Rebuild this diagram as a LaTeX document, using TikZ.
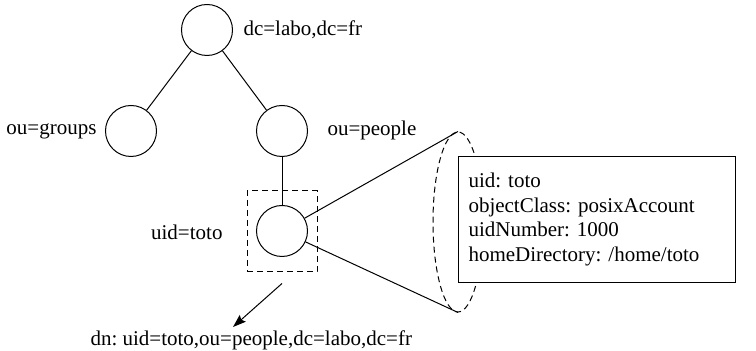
\documentclass[tikz,border=0pt]{standalone}
\usepackage{fontspec}
\setmainfont{Liberation Serif}
\usepackage{tikz}
\usetikzlibrary{arrows.meta,shapes.geometric,positioning}
\frenchspacing

\begin{document}
\begin{tikzpicture}[x=0.5pt,y=-0.5pt,line width=0.5pt,
  every node/.style={inner sep=0pt,font=\fontsize{10.5}{12.35}\selectfont},
  entry/.style={draw,circle,minimum size=25.5pt},
  dashbox/.style={draw,dash pattern=on 3pt off 2pt},
  attrbox/.style={draw,fill=white,anchor=north west,text width=128.5pt,
    minimum height=63pt,inner xsep=5pt,align=left}]
\useasboundingbox (0,0) rectangle (756,351);
% tree
\node [entry] (base) at (207,30) {};
\node [anchor=west] (baselbl) at (243,30) {dc=labo,dc=fr};
\node [entry] (groups) at (131,131) {};
\node [anchor=east] (groupslbl) at (97,131) {ou=groups};
\node [entry] (people) at (282,131) {};
\node [anchor=west] (peoplelbl) at (327,130) {ou=people};
\node [entry] (toto) at (282,231) {};
\node [anchor=east] (totolbl) at (223,232) {uid=toto};
\draw (base) -- (groups);
\draw (base) -- (people);
\draw (people) -- (toto);
% selection
\node [dashbox,minimum width=35pt,minimum height=40.5pt] (sel) at (282,231.5) {};
\coordinate (tip) at (233,327);
\draw [-{Stealth[length=6.5pt,width=4.5pt,inset=1pt]}] ([yshift=-5.5pt]sel.south) -- (tip);
\node [anchor=west] (dn) at (90,340) {dn: uid=toto,ou=people,dc=labo,dc=fr};
% zoom on the entry
\node [dashbox,ellipse,minimum width=25pt,minimum height=90pt] (lens) at (458,222) {};
\draw (toto) -- (lens.north);
\draw (toto) -- (lens.south);
\node [attrbox] (attrs) at (458,156) {uid: toto\\objectClass: posixAccount\\uidNumber: 1000\\homeDirectory: /home/toto};
\end{tikzpicture}
\end{document}
